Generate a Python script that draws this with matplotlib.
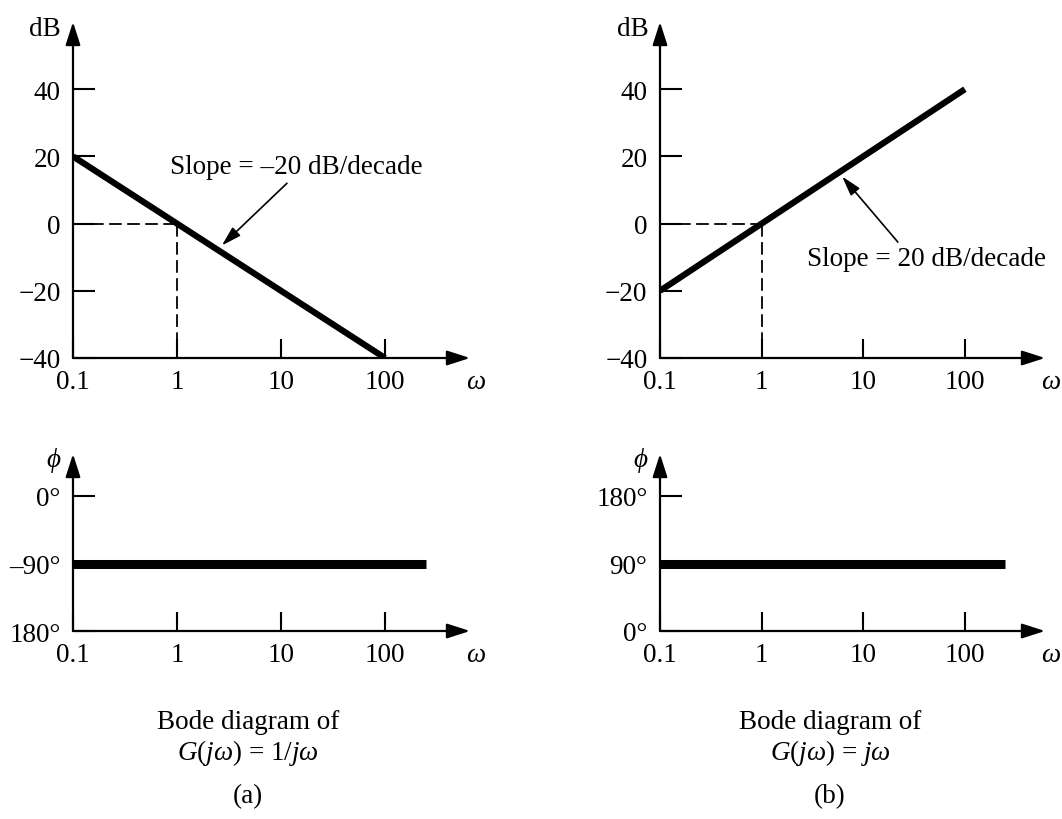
import numpy as np
import matplotlib
matplotlib.use("Agg")
import matplotlib.pyplot as plt

plt.rcParams['font.family'] = ['Liberation Serif', 'DejaVu Serif']
plt.rcParams['mathtext.fontset'] = 'custom'
plt.rcParams['mathtext.rm'] = 'Liberation Serif'
plt.rcParams['mathtext.it'] = 'Liberation Serif:italic'

# data
w_mag = [0.1, 100]
mag_a = [20, -40]          # G = 1/jw
mag_b = [-20, 40]          # G = jw
w_phase = [0.1, 250]
phase_a = [-90, -90]
phase_b = [90, 90]

w_ticks = [0.1, 1, 10, 100]
w_labels = ['0.1', '1', '10', '100']
db_ticks = [-40, -20, 0, 20, 40]
db_labels = ['\u221240', '\u221220', '0', '20', '40']
ph_ticks_a = [-180, -90, 0]
ph_labels_a = ['180\u00b0', '\u201390\u00b0', '0\u00b0']
ph_ticks_b = [0, 90, 180]
ph_labels_b = ['0\u00b0', '90\u00b0', '180\u00b0']

W, H = 1062, 820
FS = 19.5
fig = plt.figure(figsize=(W / 100, H / 100), dpi=100)


def px_axes(x0, y0, x1, y1):
    return fig.add_axes([x0 / W, 1 - y1 / H, (x1 - x0) / W, (y1 - y0) / H])


def style(ax, xlim, ylim, yticks, ylabels, ylab, xlen):
    ax.set_xscale('log')
    ax.set_xlim(*xlim)
    ax.set_ylim(*ylim)
    for s in ax.spines.values():
        s.set_visible(False)
    ax.patch.set_visible(False)
    ax.set_xticks(w_ticks)
    ax.set_xticklabels(w_labels)
    ax.minorticks_off()
    ax.set_yticks(yticks)
    ax.set_yticklabels(ylabels)
    ax.tick_params(axis='x', direction='in', length=14, width=1.5, pad=8,
                   labelsize=FS)
    ax.tick_params(axis='y', direction='in', length=16, width=1.5, pad=9,
                   labelsize=FS)
    arr = dict(arrowstyle='-|>,head_length=1.4,head_width=0.45',
               mutation_scale=10, lw=1.6, color='k', shrinkA=0, shrinkB=0)
    ax.annotate('', xy=(1, 0), xytext=(0, 0), xycoords='axes fraction',
                arrowprops=arr, annotation_clip=False)
    ax.annotate('', xy=(0, 1), xytext=(0, 0), xycoords='axes fraction',
                arrowprops=arr, annotation_clip=False)
    ax.text(-0.03, 0.99 - 0.01 * xlen, ylab, transform=ax.transAxes,
            ha='right', va='center', fontsize=FS)
    ax.text(0.99, -0.07 * xlen, r'$\omega$', transform=ax.transAxes,
            ha='left', va='center', fontsize=FS)


dash = (0, (7, 3))

# (a) magnitude
ax1 = px_axes(73, 23, 470, 359)
style(ax1, (0.1, 656), (-40, 60), db_ticks, db_labels, 'dB', 1)
ax1.plot([0.1, 1], [0, 0], color='k', lw=1.3, ls=dash)
ax1.plot([1, 1], [0, -40], color='k', lw=1.3, ls=dash)
ax1.plot(w_mag, mag_a, color='k', lw=4.5, solid_capstyle='butt')
ax1.text(0.86, 17, 'Slope = \u201320 dB/decade', fontsize=FS, ha='left',
         va='center')
ax1.annotate('', xy=(2.7, -6.5), xytext=(11.4, 12),
             arrowprops=dict(arrowstyle='-|>,head_length=1.2,head_width=0.35',
                             mutation_scale=10, lw=1.2, color='k',
                             shrinkA=0, shrinkB=0))

# (b) magnitude
ax2 = px_axes(660, 23, 1045, 359)
style(ax2, (0.1, 614), (-40, 60), db_ticks, db_labels, 'dB', 1)
ax2.plot([0.1, 1], [0, 0], color='k', lw=1.3, ls=dash)
ax2.plot([1, 1], [0, -40], color='k', lw=1.3, ls=dash)
ax2.plot(w_mag, mag_b, color='k', lw=4.5, solid_capstyle='butt')
ax2.text(2.79, -10.5, 'Slope = 20 dB/decade', fontsize=FS, ha='left',
         va='center')
ax2.annotate('', xy=(6.2, 14), xytext=(21.9, -5.5),
             arrowprops=dict(arrowstyle='-|>,head_length=1.2,head_width=0.35',
                             mutation_scale=10, lw=1.2, color='k',
                             shrinkA=0, shrinkB=0))

# (a) phase
ax3 = px_axes(73, 455, 470, 632)
style(ax3, (0.1, 656), (-180, 56), ph_ticks_a, ph_labels_a, r'$\phi$', 1.9)
ax3.plot(w_phase, phase_a, color='k', lw=6.5, solid_capstyle='butt')

# (b) phase
ax4 = px_axes(660, 455, 1045, 632)
style(ax4, (0.1, 614), (0, 236), ph_ticks_b, ph_labels_b, r'$\phi$', 1.9)
ax4.plot(w_phase, phase_b, color='k', lw=6.5, solid_capstyle='butt')

# captions
for xc, expr, tag in [(248, r'$G(j\omega)$ = 1/$j\omega$', '(a)'),
                      (830, r'$G(j\omega)$ = $j\omega$', '(b)')]:
    fig.text(xc / W, 1 - 723 / H, 'Bode diagram of', ha='center',
             va='center', fontsize=FS)
    fig.text(xc / W, 1 - 753 / H, expr, ha='center', va='center', fontsize=FS)
    fig.text(xc / W, 1 - 797 / H, tag, ha='center', va='center', fontsize=FS)

fig.savefig('out.png', dpi=100)
